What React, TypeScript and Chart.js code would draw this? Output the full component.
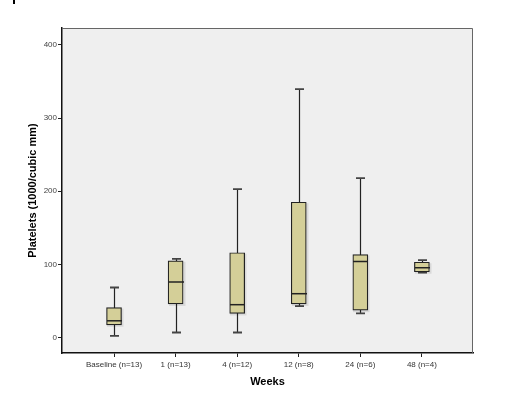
import React, { useEffect, useRef } from "react";
import { Chart, registerables } from "chart.js";

Chart.register(...registerables);

const categories = ["Baseline (n=13)", "1 (n=13)", "4 (n=12)", "12 (n=8)", "24 (n=6)", "48 (n=4)"];
const whiskerLow = [2.5, 7, 7, 43, 33, 89];
const q1 = [17.5, 46, 33, 46, 37.5, 90];
const median = [23, 76, 45, 60, 104, 95.5];
const q3 = [41, 105, 116, 185, 113.5, 103];
const whiskerHigh = [68.5, 107.5, 203, 339.5, 218, 106];
const yTicks = [0, 100, 200, 300, 400];

const FONT = "'Liberation Sans', Arial, sans-serif";

export default function App() {
  const ref = useRef<HTMLCanvasElement | null>(null);

  useEffect(() => {
    document.body.style.margin = "0";
    const canvas = ref.current;
    if (!canvas) return;

    const boxPlugin = {
      id: "boxExtras",
      beforeDraw(chart: any) {
        const { ctx, chartArea: a } = chart;
        ctx.save();
        ctx.fillStyle = "#efefef";
        ctx.fillRect(a.left, a.top, a.right - a.left, a.bottom - a.top);
        ctx.restore();
      },
      beforeDatasetsDraw(chart: any) {
        const { ctx, scales } = chart;
        const xs = scales.x, ys = scales.y;
        ctx.save();
        for (let i = 0; i < categories.length; i++) {
          const x = Math.round(xs.getPixelForValue(i)) + 0.5;
          const yl = ys.getPixelForValue(whiskerLow[i]);
          const yh = ys.getPixelForValue(whiskerHigh[i]);
          ctx.strokeStyle = "#222";
          ctx.lineWidth = 1.2;
          ctx.beginPath();
          ctx.moveTo(x, yl);
          ctx.lineTo(x, yh);
          ctx.stroke();
          ctx.lineWidth = 1.8;
          ctx.strokeStyle = "#444";
          ctx.beginPath();
          ctx.moveTo(x - 4.5, yl);
          ctx.lineTo(x + 4.5, yl);
          ctx.moveTo(x - 4.5, yh);
          ctx.lineTo(x + 4.5, yh);
          ctx.stroke();
          // soft shadow of the box
          const yq1 = ys.getPixelForValue(q1[i]);
          const yq3 = ys.getPixelForValue(q3[i]);
          ctx.fillStyle = "rgba(0,0,0,0.09)";
          ctx.fillRect(x - 7.5, yq3 + 1, 16.5, yq1 - yq3 + 1);
        }
        ctx.restore();
      },
      afterDatasetsDraw(chart: any) {
        const { ctx, scales, chartArea: a } = chart;
        const xs = scales.x, ys = scales.y;
        ctx.save();
        ctx.strokeStyle = "#222";
        ctx.lineWidth = 1.5;
        for (let i = 0; i < categories.length; i++) {
          const x = Math.round(xs.getPixelForValue(i)) + 0.5;
          const ym = ys.getPixelForValue(median[i]);
          ctx.beginPath();
          ctx.moveTo(x - 7.5, ym);
          ctx.lineTo(x + 7.5, ym);
          ctx.stroke();
        }
        ctx.strokeStyle = "#666";
        ctx.lineWidth = 1;
        ctx.beginPath();
        ctx.moveTo(a.left, a.top + 0.5);
        ctx.lineTo(a.right - 0.5, a.top + 0.5);
        ctx.lineTo(a.right - 0.5, a.bottom);
        ctx.stroke();
        ctx.restore();
      },
    };

    const chart = new Chart(canvas, {
      type: "bar",
      data: {
        datasets: [
          {
            data: categories.map((_, i) => ({ x: i, y: [q1[i], q3[i]] })) as any,
            backgroundColor: "#d4cf98",
            borderColor: "#222",
            borderWidth: 1.2,
            borderSkipped: false,
            barThickness: 15,
          },
        ],
      },
      options: {
        animation: false,
        responsive: false,
        events: [],
        layout: { padding: { left: 0, top: 28, right: 43, bottom: 0 } },
        plugins: { legend: { display: false }, tooltip: { enabled: false } },
        scales: {
          x: {
            type: "linear",
            offset: false,
            min: -0.845,
            max: 5.83,
            afterBuildTicks: (s: any) => {
              s.ticks = categories.map((_, i) => ({ value: i }));
            },
            afterFit: (s: any) => {
              s.height = 45;
            },
            ticks: {
              callback: (v: any) => categories[v as number] ?? "",
              font: { family: FONT, size: 8 },
              color: "#333",
              padding: 2.5,
              maxRotation: 0,
              autoSkip: false,
            },
            grid: { offset: false, drawOnChartArea: false, drawTicks: true, tickLength: 4, color: "#222" },
            border: { color: "#111", width: 1.5 },
            title: {
              display: true,
              text: "Weeks",
              font: { family: FONT, size: 11, weight: "bold" },
              color: "#000",
              padding: { top: 0, bottom: 9 },
            },
          },
          y: {
            type: "linear",
            min: -21,
            max: 423,
            afterBuildTicks: (s: any) => {
              s.ticks = yTicks.map((v) => ({ value: v }));
            },
            afterFit: (s: any) => {
              s.width = 62;
            },
            ticks: {
              font: { family: FONT, size: 8 },
              color: "#444",
              padding: 1,
            },
            grid: { drawOnChartArea: false, drawTicks: true, tickLength: 4, color: "#222" },
            border: { color: "#111", width: 1.5 },
            title: {
              display: true,
              text: "Platelets (1000/cubic mm)",
              font: { family: FONT, size: 11, weight: "bold" },
              color: "#000",
              padding: { top: 26, bottom: 0 },
            },
          },
        },
      },
      plugins: [boxPlugin],
    });

    return () => chart.destroy();
  }, []);

  return (
    <div style={{ position: "relative", width: 516, height: 398, background: "#fff" }}>
      <div style={{ position: "absolute", left: 13, top: 0, width: 2, height: 4, background: "#000" }} />
      <canvas ref={ref} width={516} height={398} style={{ display: "block" }} />
    </div>
  );
}
